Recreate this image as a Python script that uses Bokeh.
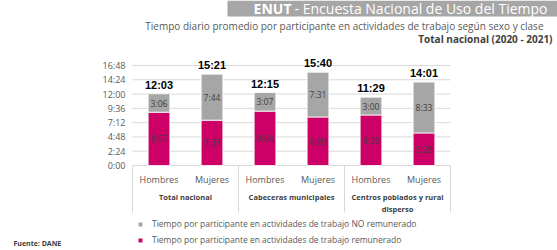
from bokeh.plotting import figure
from bokeh.models import (Range1d, FixedTicker, ColumnDataSource, LinearAxis,
                          Legend, LegendItem, Label, BoxAnnotation)
from bokeh.core.properties import value
from bokeh.embed import file_html
from bokeh.resources import INLINE

# ---------------- data ----------------
groups = ["Total nacional", "Cabeceras municipales", "Centros poblados y rural\ndisperso"]
sexes = ["Hombres", "Mujeres"]
remunerado = ["8:57", "7:37", "9:08", "8:09", "8:29", "5:28"]
no_remunerado = ["3:06", "7:44", "3:07", "7:31", "3:00", "8:33"]
y_tick_labels = ["0:00", "2:24", "4:48", "7:12", "9:36", "12:00", "14:24", "16:48"]

title_bold = "ENUT"
title_rest = "- Encuesta Nacional de Uso del Tiempo"
subtitle = "Tiempo diario promedio por participante en actividades de trabajo según sexo y clase"
subtitle2 = "Total nacional (2020 - 2021)"
legend_labels = ["Tiempo por participante en actividades de trabajo NO remunerado",
                 "Tiempo por participante en actividades de trabajo remunerado"]
source_note = "Fuente: DANE"

PINK = "#CC0066"
GRAY = "#A6A6A6"
GRID = "#D9D9D9"
FONT = "Open Sans"


def to_min(s):
    h, m = s.split(":")
    return int(h) * 60 + int(m)


def to_hm(v):
    return f"{v // 60}:{v % 60:02d}"


# ---------------- layout constants (pixels) ----------------
W, H = 557, 250
CL, CR = 132, 450          # chart area left / right
Y0 = 165                   # pixel row of 0:00
YTOP = 65                  # pixel row of last tick
n_cat = len(groups) * len(sexes)
cw = (CR - CL) / n_cat     # pixels per category
ticks = [to_min(s) for s in y_tick_labels]
ppm = (Y0 - YTOP) / ticks[-1]       # pixels per minute


def sx(px):
    return px


def sy(py):
    return H - py


cat_x = [i + 0.5 for i in range(n_cat)]
cat_lbl = [s for g in groups for s in sexes]
grp_x = [len(sexes) * (j + 0.5) for j in range(len(groups))]
sep_x = [len(sexes) * j for j in range(len(groups) + 1)]

rem = [to_min(v) for v in remunerado]
nrem = [to_min(v) for v in no_remunerado]
tot = [a + b for a, b in zip(rem, nrem)]

src = ColumnDataSource(dict(
    x=cat_x,
    rem=rem, nrem=nrem, tot=tot,
    rem_mid=[a / 2 for a in rem],
    nrem_mid=[a + b / 2 for a, b in zip(rem, nrem)],
    rem_lbl=remunerado, nrem_lbl=no_remunerado,
    tot_lbl=[to_hm(t) for t in tot],
))

p = figure(width=W, height=H, title=None,
           x_range=Range1d(-CL / cw, (W - CL) / cw),
           y_range=Range1d(-(H - Y0) / ppm, Y0 / ppm),
           output_backend="svg", toolbar_location=None,
           min_border_left=0, min_border_right=0,
           min_border_top=0, min_border_bottom=0,
           x_axis_location=None, y_axis_location=None)
p.outline_line_color = None
p.background_fill_color = "white"
p.border_fill_color = "white"
p.xgrid.visible = False
p.ygrid.visible = False

# horizontal gridlines limited to chart area
p.segment(x0=[0] * len(ticks), x1=[n_cat] * len(ticks), y0=ticks, y1=ticks,
          line_color=GRID, line_width=1)

# y axis at left of chart area
yax = LinearAxis(fixed_location=0, ticker=FixedTicker(ticks=ticks),
                 major_label_overrides={t: l for t, l in zip(ticks, y_tick_labels)},
                 axis_line_color=None, major_tick_line_color=None,
                 minor_tick_line_color=None, major_tick_out=0, major_tick_in=0,
                 major_label_text_font=FONT, major_label_text_font_size="9px",
                 major_label_text_color="#595959", major_label_standoff=7)
p.add_layout(yax, "left")

# x axis: sexes
xax = LinearAxis(fixed_location=0, ticker=FixedTicker(ticks=cat_x),
                 major_label_overrides={x: l for x, l in zip(cat_x, cat_lbl)},
                 axis_line_color=None, major_tick_line_color=None,
                 minor_tick_line_color=None, major_tick_out=0, major_tick_in=0,
                 major_label_text_font=FONT, major_label_text_font_size="9px",
                 major_label_text_color="#595959", major_label_standoff=7)
p.add_layout(xax, "below")

# x axis: groups
gax = LinearAxis(fixed_location=0, ticker=FixedTicker(ticks=grp_x),
                 major_label_overrides={x: l for x, l in zip(grp_x, groups)},
                 axis_line_color=None, major_tick_line_color=None,
                 minor_tick_line_color=None, major_tick_out=0, major_tick_in=0,
                 major_label_text_font=FONT, major_label_text_font_size="7.5px",
                 major_label_text_font_style="bold",
                 major_label_text_color="#404040", major_label_standoff=26)
p.add_layout(gax, "below")

# separators below the axis
sep_bottom = -(212 - Y0) / ppm
p.segment(x0=sep_x, x1=sep_x, y0=[0] * len(sep_x), y1=[sep_bottom] * len(sep_x),
          line_color=GRID, line_width=1)

# bars
rs = p.vbar_stack(["rem", "nrem"], x="x", width=0.41, color=[PINK, GRAY],
                  source=src, line_color="white", line_width=0.8)

# labels
p.text(x="x", y="rem_mid", text="rem_lbl", source=src, text_align="center",
       text_baseline="middle", text_font=value(FONT), text_font_size="8.5px",
       text_color="#404040")
p.text(x="x", y="nrem_mid", text="nrem_lbl", source=src, text_align="center",
       text_baseline="middle", text_font=value(FONT), text_font_size="8.5px",
       text_color="#404040")
p.text(x="x", y="tot", text="tot_lbl", source=src, text_align="center",
       text_baseline="bottom", y_offset=-3, text_font=value("Liberation Sans"),
       text_font_style="bold", text_font_size="11px", text_color="black")

# legend
legend = Legend(items=[LegendItem(label=legend_labels[0], renderers=[rs[1]]),
                       LegendItem(label=legend_labels[1], renderers=[rs[0]])],
                location=(137, sy(245)), orientation="vertical",
                glyph_width=6, glyph_height=6, label_height=10, spacing=5,
                padding=0, margin=0, label_standoff=9,
                label_text_font=FONT, label_text_font_size="8.5px",
                label_text_color="#595959",
                background_fill_alpha=0, border_line_color=None)
p.add_layout(legend)

# title box and texts
p.add_layout(BoxAnnotation(left=227, right=W, top=sy(0), bottom=sy(16),
                           left_units="screen", right_units="screen",
                           top_units="screen", bottom_units="screen",
                           fill_color=GRAY, fill_alpha=1, line_color=None,
                           level="annotation"))
p.add_layout(Label(x=sx(547), y=sy(8), x_units="screen", y_units="screen",
                   text=title_rest, text_font=FONT, text_font_size="14px",
                   text_align="right", text_baseline="middle", text_color="white"))
p.add_layout(Label(x=sx(291), y=sy(8), x_units="screen", y_units="screen",
                   text=title_bold, text_font=FONT, text_font_size="14px",
                   text_font_style="bold",
                   text_align="right", text_baseline="middle", text_color="white"))
p.add_layout(Label(x=sx(543), y=sy(25), x_units="screen", y_units="screen",
                   text=subtitle, text_font=FONT, text_font_size="10px",
                   text_align="right", text_baseline="middle", text_color="#595959"))
p.add_layout(Label(x=sx(552), y=sy(38), x_units="screen", y_units="screen",
                   text=subtitle2, text_font=FONT, text_font_size="10px",
                   text_font_style="bold",
                   text_align="right", text_baseline="middle", text_color="#404040"))
p.add_layout(Label(x=sx(13), y=sy(243), x_units="screen", y_units="screen",
                   text=source_note, text_font=FONT, text_font_size="7px",
                   text_font_style="bold",
                   text_align="left", text_baseline="middle", text_color="#404040"))

open("out.html", "w").write(file_html(p, INLINE))
